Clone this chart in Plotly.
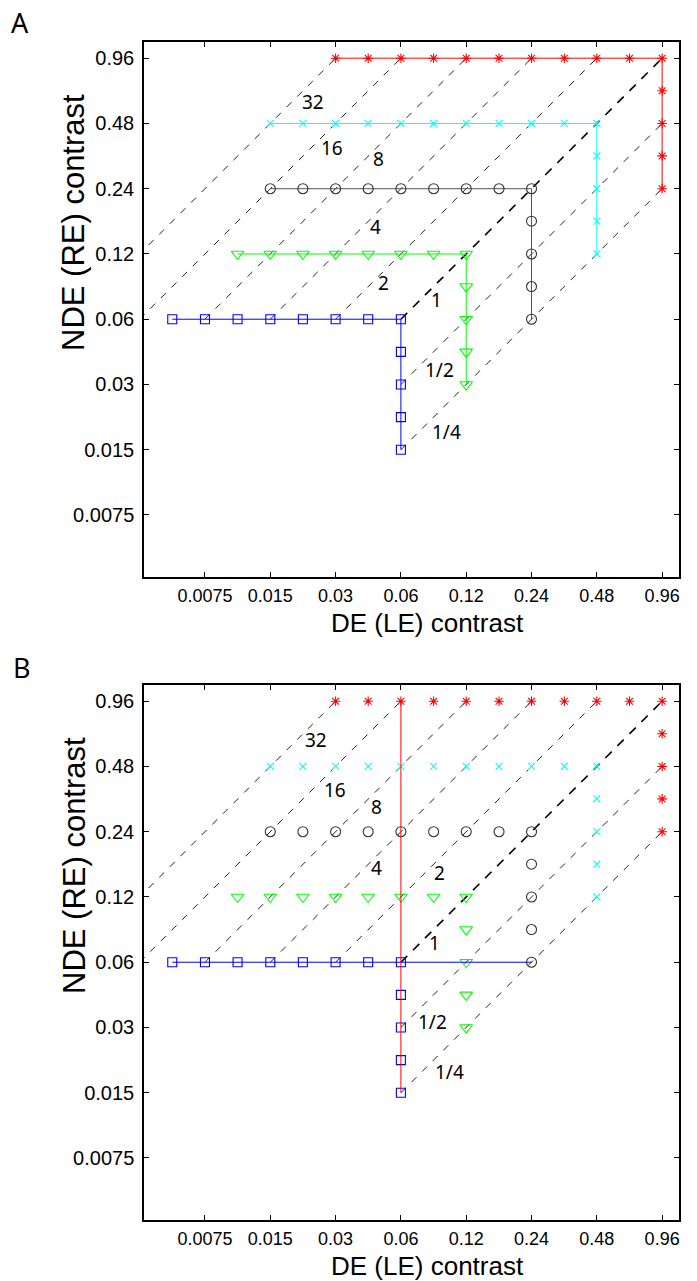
import math
import plotly.graph_objects as go

# ---------------- data ----------------
tick_vals = [0.0075, 0.015, 0.03, 0.06, 0.12, 0.24, 0.48, 0.96]
tick_text = ["0.0075", "0.015", "0.03", "0.06", "0.12", "0.24", "0.48", "0.96"]

blue_row_y = 0.06
blue_row_x = [0.0053, 0.0075, 0.0106, 0.015, 0.0212, 0.03, 0.0424, 0.06]
blue_col_x = 0.06
blue_col_y = [0.0424, 0.03, 0.0212, 0.015]

green_row_y = 0.12
green_row_x = [0.0106, 0.015, 0.0212, 0.03, 0.0424, 0.06, 0.0849, 0.12]
green_col_x = 0.12
green_col_y = [0.0849, 0.06, 0.0424, 0.03]

black_row_y = 0.24
black_row_x = [0.015, 0.0212, 0.03, 0.0424, 0.06, 0.0849, 0.12, 0.17, 0.24]
black_col_x = 0.24
black_col_y = [0.17, 0.12, 0.0849, 0.06]

cyan_row_y = 0.48
cyan_row_x = [0.015, 0.0212, 0.03, 0.0424, 0.06, 0.0849, 0.12, 0.17, 0.24, 0.34, 0.48]
cyan_col_x = 0.48
cyan_col_y = [0.34, 0.24, 0.17, 0.12]

red_row_y = 0.96
red_row_x = [0.03, 0.0424, 0.06, 0.0849, 0.12, 0.17, 0.24, 0.34, 0.48, 0.679, 0.96]
red_col_x = 0.96
red_col_y = [0.679, 0.48, 0.34, 0.24]

# ratio (NDE/DE) iso-lines
ratios = [32, 16, 8, 4, 2, 1, 0.5, 0.25]
ratio_labels = ["32", "16", "8", "4", "2", "1", "1/2", "1/4"]
line_low = 0.06   # lines run from the 0.06 level ...
line_high = 0.96  # ... up to the 0.96 level

# panel B connecting lines
b_blue_line_x = [0.0053, 0.24]
b_blue_line_y = [0.06, 0.06]
b_red_line_x = [0.06, 0.06]
b_red_line_y = [0.015, 0.96]

# ratio label positions (data coords) for each panel
labels_A_x = [0.0236, 0.0288, 0.0475, 0.046, 0.0501, 0.0879, 0.0908, 0.0978]
labels_A_y = [0.60, 0.370, 0.328, 0.160, 0.0882, 0.0737, 0.0350, 0.0181]
labels_B_x = [0.0244, 0.0298, 0.0465, 0.0465, 0.0908, 0.0861, 0.0843, 0.101]
labels_B_y = [0.636, 0.374, 0.312, 0.163, 0.155, 0.0737, 0.0318, 0.0187]

series = [
    # name, row_y, row_x, col_x, col_y, color, symbol, size
    ("blue", blue_row_y, blue_row_x, blue_col_x, blue_col_y, "#0000FF", "square-open", 9),
    ("green", green_row_y, green_row_x, green_col_x, green_col_y, "#00FF00", "triangle-down-open", 11),
    ("black", black_row_y, black_row_x, black_col_x, black_col_y, "#333333", "circle-open", 10),
    ("cyan", cyan_row_y, cyan_row_x, cyan_col_x, cyan_col_y, "#00FFFF", "x-thin-open", 7),
    ("red", red_row_y, red_row_x, red_col_x, red_col_y, "#FF0000", "asterisk-open", 8),
]

W, H = 697, 1281
fig = go.Figure()

def add_ratio_lines(xa, ya):
    for r in ratios:
        s = max(r, 1.0)
        x0, x1 = line_low / s, line_high / s
        is_one = (r == 1)
        fig.add_trace(go.Scatter(
            x=[x0, x1], y=[r * x0, r * x1], mode="lines",
            line=dict(color="#000000" if is_one else "#222222",
                      width=1.6 if is_one else 1.0,
                      dash="9px,8px" if is_one else "7px,8px"),
            xaxis=xa, yaxis=ya, showlegend=False, hoverinfo="skip"))

# ---- panel A ----
add_ratio_lines("x", "y")
for name, ry, rx, cx, cy, col, sym, sz in series:
    xs = list(rx) + [cx] * len(cy)
    ys = [ry] * len(rx) + list(cy)
    lc = "#555555" if name == "black" else col
    fig.add_trace(go.Scatter(
        x=xs, y=ys, mode="lines+markers",
        line=dict(color=lc, width=1),
        marker=dict(symbol=sym, size=sz, color=col, line=dict(width=1.1, color=col)),
        xaxis="x", yaxis="y", showlegend=False))

# ---- panel B ----
add_ratio_lines("x2", "y2")
for name, ry, rx, cx, cy, col, sym, sz in series:
    xs = list(rx) + [cx] * len(cy)
    ys = [ry] * len(rx) + list(cy)
    fig.add_trace(go.Scatter(
        x=xs, y=ys, mode="markers",
        marker=dict(symbol=sym, size=sz, color=col, line=dict(width=1.1, color=col)),
        xaxis="x2", yaxis="y2", showlegend=False))
fig.add_trace(go.Scatter(x=b_blue_line_x, y=b_blue_line_y, mode="lines",
                         line=dict(color="#0000FF", width=1),
                         xaxis="x2", yaxis="y2", showlegend=False))
fig.add_trace(go.Scatter(x=b_red_line_x, y=b_red_line_y, mode="lines",
                         line=dict(color="#FF0000", width=1),
                         xaxis="x2", yaxis="y2", showlegend=False))

# ---- annotations ----
ann = []
lab_font = dict(family="Noto Sans, Open Sans, sans-serif", size=19, color="black")
for t, x, y in zip(ratio_labels, labels_A_x, labels_A_y):
    ann.append(dict(x=math.log10(x), y=math.log10(y), xref="x", yref="y",
                    text=t, showarrow=False, font=lab_font))
for t, x, y in zip(ratio_labels, labels_B_x, labels_B_y):
    ann.append(dict(x=math.log10(x), y=math.log10(y), xref="x2", yref="y2",
                    text=t, showarrow=False, font=lab_font))

title_font_x = dict(family="Liberation Sans, Arial, sans-serif", size=26, color="black")
title_font_y = dict(family="Liberation Sans, Arial, sans-serif", size=31, color="black")
for off in (0, 643):
    ann.append(dict(x=428 / W, y=1 - (623 + off) / H, xref="paper", yref="paper",
                    text="DE (LE) contrast", showarrow=False, font=title_font_x,
                    xanchor="center", yanchor="middle"))
    ann.append(dict(x=74 / W, y=1 - (223 + off) / H, xref="paper", yref="paper",
                    text="NDE (RE) contrast", showarrow=False, font=title_font_y,
                    textangle=-90, xanchor="center", yanchor="middle"))
panel_font = dict(family="Noto Sans, Open Sans, sans-serif", size=27, color="black")
ann.append(dict(x=20 / W, y=1 - 22 / H, xref="paper", yref="paper", text="A",
                showarrow=False, font=panel_font, xanchor="center", yanchor="middle"))
ann.append(dict(x=22 / W, y=1 - 667 / H, xref="paper", yref="paper", text="B",
                showarrow=False, font=panel_font, xanchor="center", yanchor="middle"))

rng = [-2.406, 0.060]
rngy = [-2.411, 0.057]

def xaxis_cfg(anchor):
    return dict(type="log", range=rng, domain=[144 / W, 679 / W], anchor=anchor,
                tickvals=tick_vals, ticktext=tick_text, ticks="inside", ticklen=5,
                tickwidth=1, tickcolor="black", showline=True, linecolor="black",
                linewidth=1.5, mirror="ticks", showgrid=False, zeroline=False,
                tickfont=dict(family="Liberation Sans, Arial, sans-serif", size=18, color="black"),
                ticklabelstandoff=2)

def yaxis_cfg(anchor, top, bottom):
    return dict(type="log", range=rngy, domain=[1 - bottom / H, 1 - top / H], anchor=anchor,
                tickvals=tick_vals, ticktext=tick_text, ticks="inside", ticklen=5,
                tickwidth=1, tickcolor="black", showline=True, linecolor="black",
                linewidth=1.5, mirror="ticks", showgrid=False, zeroline=False,
                tickfont=dict(family="Liberation Sans, Arial, sans-serif", size=20, color="black"),
                ticklabelstandoff=4)

fig.update_layout(
    width=W, height=H, margin=dict(l=0, r=0, t=0, b=0),
    paper_bgcolor="white", plot_bgcolor="white",
    xaxis=xaxis_cfg("y"), yaxis=yaxis_cfg("x", 42, 577),
    xaxis2=xaxis_cfg("y2"), yaxis2=yaxis_cfg("x2", 685, 1220),
    annotations=ann, showlegend=False,
)

fig.write_html("out.html")
